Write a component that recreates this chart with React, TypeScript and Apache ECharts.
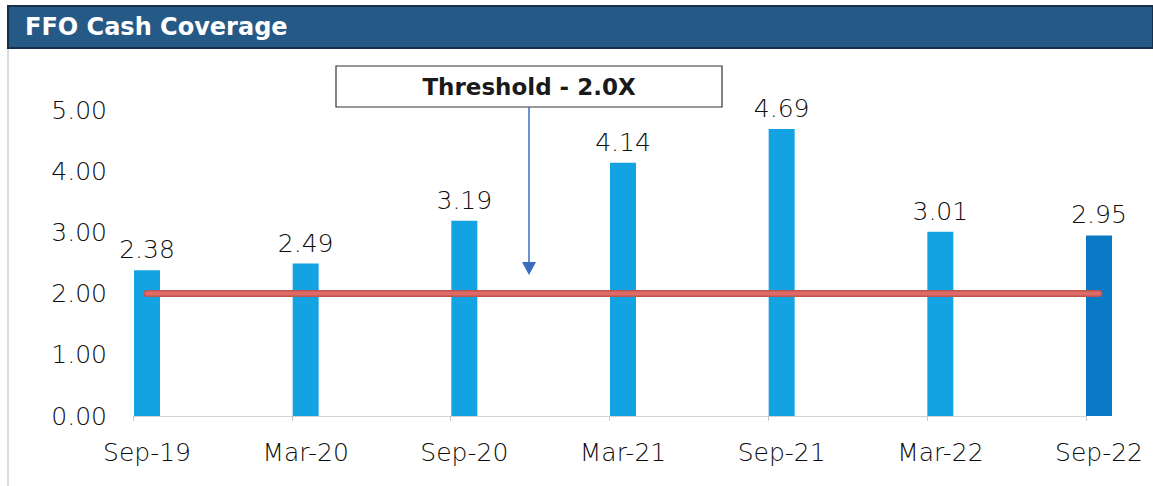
import React, { useEffect, useRef } from "react";
import * as echarts from "echarts";

const categories = ["Sep-19", "Mar-20", "Sep-20", "Mar-21", "Sep-21", "Mar-22", "Sep-22"];
const coverage = [2.38, 2.49, 3.19, 4.14, 4.69, 3.01, 2.95];
const threshold = [2.0, 2.0, 2.0, 2.0, 2.0, 2.0, 2.0];
const yTicks = [0, 1, 2, 3, 4, 5];

const FONT = "'DejaVu Sans', Verdana, sans-serif";
const LIGHT = 200;
const TEXT = "#0d0d0d";
const BAR = "#14a3e2";
const BAR_LAST = "#0b7ac6";

export default function App() {
  const ref = useRef<HTMLDivElement>(null);

  useEffect(() => {
    if (!ref.current) return;
    const chart = echarts.init(ref.current, null, { renderer: "svg" });
    chart.setOption({
      animation: false,
      backgroundColor: "#ffffff",
      grid: [
        { left: 147, right: 54, top: 110, bottom: 70 },
        { left: 133, right: 67, top: 110, bottom: 70 },
      ],
      xAxis: [
        {
          type: "category",
          gridIndex: 0,
          data: categories,
          boundaryGap: false,
          axisLine: { show: false },
          axisTick: { show: false },
          axisLabel: { fontFamily: FONT, fontWeight: LIGHT, fontSize: 25, color: TEXT, margin: 24 },
        },
        {
          type: "category",
          gridIndex: 1,
          data: categories,
          boundaryGap: false,
          axisLine: { show: true, lineStyle: { color: "#c8c8c8", width: 1, type: "dotted" } },
          axisTick: { show: true, length: 5, lineStyle: { color: "#c8c8c8" } },
          axisLabel: { show: false },
        },
      ],
      yAxis: [
        {
          type: "value",
          gridIndex: 0,
          min: yTicks[0],
          max: yTicks[yTicks.length - 1],
          interval: 1,
          splitLine: { show: false },
          axisLine: { show: false },
          axisTick: { show: false },
          axisLabel: {
            fontFamily: FONT,
            fontWeight: LIGHT,
            fontSize: 25,
            color: TEXT,
            margin: 40,
            formatter: (v: number) => v.toFixed(2),
          },
        },
        {
          type: "value",
          gridIndex: 1,
          min: 0,
          max: 5,
          show: false,
        },
      ],
      series: [
        {
          type: "bar",
          xAxisIndex: 0,
          yAxisIndex: 0,
          barWidth: 26,
          data: coverage.map((v, i) => ({
            value: v,
            itemStyle: { color: i === coverage.length - 1 ? BAR_LAST : BAR },
          })),
          label: {
            show: true,
            position: "top",
            distance: 8,
            fontFamily: FONT,
            fontWeight: LIGHT,
            fontSize: 25,
            color: TEXT,
            formatter: (p: any) => Number(p.value).toFixed(2),
          },
          z: 2,
        },
        {
          type: "line",
          xAxisIndex: 0,
          yAxisIndex: 0,
          data: threshold,
          symbol: "none",
          lineStyle: { color: "#bf5451", width: 7, cap: "round" },
          z: 3,
        },
        {
          type: "line",
          xAxisIndex: 0,
          yAxisIndex: 0,
          data: threshold,
          symbol: "none",
          lineStyle: { color: "#df6b66", width: 4, cap: "round" },
          z: 4,
        },
      ],
      graphic: [
        {
          type: "rect",
          shape: { x: 8, y: 6, width: 1145, height: 42 },
          style: { fill: "#255a86", stroke: "#16304a", lineWidth: 2 },
          z: 10,
        },
        {
          type: "text",
          x: 25,
          y: 27,
          style: {
            text: "FFO Cash Coverage",
            fill: "#ffffff",
            font: `bold 24px ${FONT}`,
            verticalAlign: "middle",
          },
          z: 11,
        },
        {
          type: "line",
          shape: { x1: 8, y1: 48, x2: 8, y2: 486 },
          style: { stroke: "#d0d0d0", lineWidth: 1.5 },
        },
        {
          type: "rect",
          shape: { x: 336, y: 66, width: 386, height: 41 },
          style: { fill: "#ffffff", stroke: "#333333", lineWidth: 1.2 },
          z: 10,
        },
        {
          type: "text",
          x: 529,
          y: 87,
          style: {
            text: "Threshold - 2.0X",
            fill: "#1a1a1a",
            font: `bold 23px ${FONT}`,
            align: "center",
            verticalAlign: "middle",
          },
          z: 11,
        },
        {
          type: "line",
          shape: { x1: 529, y1: 107, x2: 529, y2: 263 },
          style: { stroke: "#3b6cc0", lineWidth: 1.5 },
          z: 10,
        },
        {
          type: "polygon",
          shape: { points: [[522, 262], [536, 262], [529, 275]] },
          style: { fill: "#3b6cc0" },
          z: 10,
        },
      ],
    });
    return () => chart.dispose();
  }, []);

  return (
    <div
      ref={ref}
      style={{ position: "fixed", left: 0, top: 0, width: 1153, height: 486 }}
    />
  );
}
